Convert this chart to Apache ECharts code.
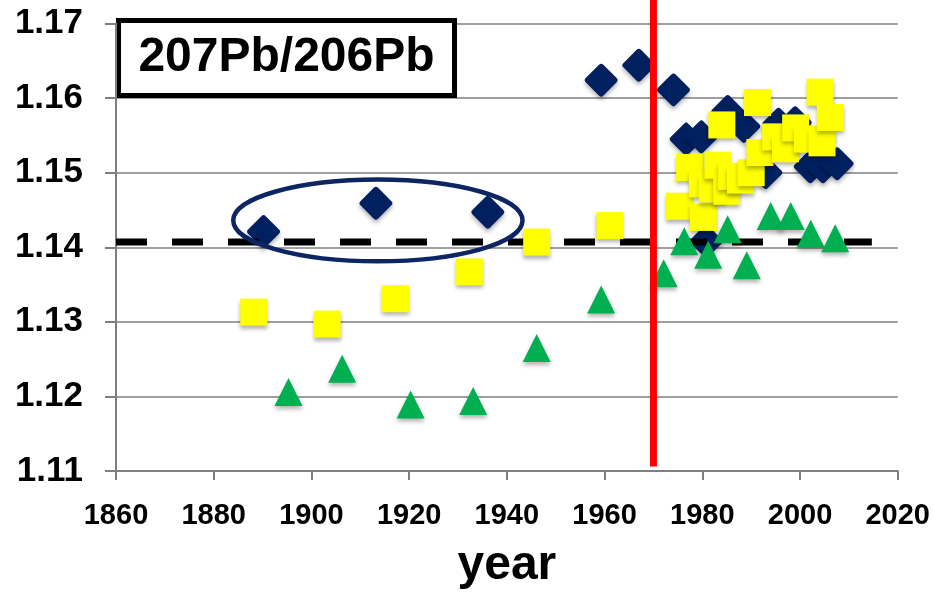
<!DOCTYPE html>
<html>
<head>
<meta charset="utf-8">
<title>207Pb/206Pb</title>
<script src="https://cdn.jsdelivr.net/npm/echarts@6/dist/echarts.min.js"></script>
<style>
  html, body { margin: 0; padding: 0; background: #fff; }
  #chart { width: 933px; height: 595px; }
</style>
</head>
<body>
<div id="chart"></div>
<script>
// 軸目盛
const xTicks = [1860, 1880, 1900, 1920, 1940, 1960, 1980, 2000, 2020];
const yTicks = [1.11, 1.12, 1.13, 1.14, 1.15, 1.16, 1.17];

// ◆ (紺)
const navyPoints = [
  [1890.2, 1.1421], [1913.2, 1.1459], [1936.1, 1.1447], [1959.3, 1.1624],
  [1967.0, 1.1644], [1974.1, 1.1611], [1976.7, 1.1545], [1979.8, 1.1548],
  [1985.2, 1.1582], [1988.5, 1.1562], [1993.0, 1.1500], [1995.6, 1.1565],
  [1999.0, 1.1567], [2002.1, 1.1508], [2004.7, 1.1508], [2007.6, 1.1512],
  [1980.8, 1.1408]
];

// ■ (黄)
const yellowPoints = [
  [1888.2, 1.1313], [1903.2, 1.1297], [1917.2, 1.1331], [1932.3, 1.1367],
  [1946.1, 1.1407], [1961.1, 1.1429], [1975.3, 1.1455], [1977.4, 1.1507],
  [1980.2, 1.1440], [1980.0, 1.1485], [1982.0, 1.1478], [1983.2, 1.1510],
  [1984.0, 1.1564], [1985.0, 1.1475], [1986.0, 1.1495], [1987.8, 1.1490],
  [1990.0, 1.1500], [1991.3, 1.1594], [1991.8, 1.1527], [1995.0, 1.1548],
  [1997.0, 1.1532], [1999.1, 1.1560], [2001.5, 1.1545], [2004.1, 1.1608],
  [2004.5, 1.1540], [2006.2, 1.1574]
];

// ▲ (緑)
const greenPoints = [
  [1895.3, 1.1206], [1906.3, 1.1237], [1920.3, 1.1189], [1933.1, 1.1194],
  [1946.1, 1.1265], [1959.3, 1.1330], [1972.1, 1.1365], [1976.3, 1.1408],
  [1981.2, 1.1390], [1985.2, 1.1424], [1989.1, 1.1376], [1994.0, 1.1442],
  [1998.1, 1.1442], [2002.2, 1.1418], [2007.2, 1.1412]
];

// 破線 (基準値) と 赤線 (1970年)
const baseLine = [[1860, 1.1407], [2014.7, 1.1407]];
const redLine = [[1970, 1.1106], [1970, 1.1732]];

// 楕円 (中心・半径, データ単位)
const ellipseCenter = [1913.6, 1.1436];
const ellipseRadius = [29.6, 0.00548];

const FONT = "'Liberation Sans', Arial, sans-serif";
const GRID_COLOR = '#7f7f7f';

const diamondPath = 'path://M44,6 Q50,0 56,6 L94,44 Q100,50 94,56 L56,94 Q50,100 44,94 L6,56 Q0,50 6,44 Z';

const markStyle = {
  opacity: 1,
  shadowBlur: 4,
  shadowColor: 'rgba(0,0,0,0.3)',
  shadowOffsetY: 3,
};

const chart = echarts.init(document.getElementById('chart'), null, { renderer: 'canvas' });

const option = {
  animation: false,
  backgroundColor: '#fff',
  grid: {
    left: 116,
    right: 30,
    top: 23.5,
    bottom: 121,
    containLabel: false,
  },
  xAxis: {
    type: 'value',
    min: xTicks[0],
    max: xTicks[xTicks.length - 1],
    interval: 20,
    name: 'year',
    nameLocation: 'middle',
    nameGap: 71,
    nameTextStyle: { fontFamily: FONT, fontWeight: 'bold', fontSize: 48, color: '#000' },
    axisLine: { show: true, lineStyle: { color: GRID_COLOR, width: 2 } },
    axisTick: { show: true, length: 9, lineStyle: { color: GRID_COLOR, width: 2 } },
    axisLabel: {
      fontFamily: FONT, fontWeight: 'bold', fontSize: 29, color: '#000', margin: 30,
      formatter: (v) => String(v),
    },
    splitLine: { show: false },
  },
  yAxis: {
    type: 'value',
    min: yTicks[0],
    max: yTicks[yTicks.length - 1],
    interval: 0.01,
    axisLine: { show: true, lineStyle: { color: GRID_COLOR, width: 2 } },
    axisTick: { show: true, length: 11, lineStyle: { color: GRID_COLOR, width: 2 } },
    axisLabel: {
      fontFamily: FONT, fontWeight: 'bold', fontSize: 35, color: '#000', margin: 33,
      formatter: (v) => v.toFixed(2),
    },
    splitLine: { show: true, lineStyle: { color: GRID_COLOR, width: 1.5 } },
  },
  series: [
    {
      name: 'navy',
      type: 'scatter',
      z: 2,
      symbol: diamondPath,
      symbolSize: 33,
      itemStyle: { color: '#002060', ...markStyle },
      data: navyPoints,
    },
    {
      name: 'base',
      type: 'line',
      z: 3,
      symbol: 'none',
      lineStyle: { color: '#000', width: 7, type: [31, 25] },
      data: baseLine,
    },
    {
      name: 'yellow',
      type: 'scatter',
      z: 4,
      symbol: 'rect',
      symbolSize: 27,
      itemStyle: { color: '#ffff00', ...markStyle },
      data: yellowPoints,
    },
    {
      name: 'green',
      type: 'scatter',
      z: 5,
      symbol: 'triangle',
      symbolSize: [28, 28],
      itemStyle: { color: '#00b050', ...markStyle },
      data: greenPoints,
    },
    {
      name: '1970',
      type: 'line',
      z: 6,
      clip: false,
      symbol: 'none',
      lineStyle: { color: '#ff0000', width: 7 },
      data: redLine,
    },
  ],
};

chart.setOption(option);

// 楕円と見出しボックス
const c = chart.convertToPixel({ gridIndex: 0 }, ellipseCenter);
const e = chart.convertToPixel({ gridIndex: 0 }, [
  ellipseCenter[0] + ellipseRadius[0],
  ellipseCenter[1] + ellipseRadius[1],
]);

chart.setOption({
  graphic: [
    {
      type: 'ellipse',
      z: 3.5,
      shape: { cx: c[0], cy: c[1], rx: Math.abs(e[0] - c[0]), ry: Math.abs(e[1] - c[1]) },
      style: { fill: 'none', stroke: '#0d2563', lineWidth: 4.5 },
    },
    {
      type: 'group',
      z: 100,
      children: [
        {
          type: 'rect',
          shape: { x: 118.5, y: 20.5, width: 336, height: 75 },
          style: { fill: '#fff', stroke: '#000', lineWidth: 5 },
        },
        {
          type: 'text',
          x: 286.5,
          y: 58,
          style: {
            text: '207Pb/206Pb',
            font: 'bold 48px ' + FONT,
            fill: '#000',
            align: 'center',
            verticalAlign: 'middle',
          },
        },
      ],
    },
  ],
});
</script>
</body>
</html>
